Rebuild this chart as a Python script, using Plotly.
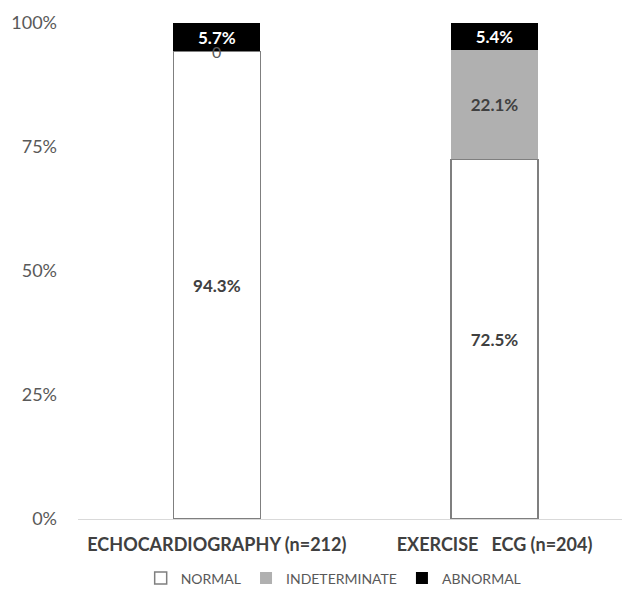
import plotly.graph_objects as go

# Stacked percentage results per test
categories = ["ECHOCARDIOGRAPHY (n=212)", "EXERCISE\u00a0\u00a0\u00a0ECG (n=204)"]
normal = [94.3, 72.5]
indeterminate = [0.0, 22.1]
abnormal = [5.7, 5.4]
y_ticks = [0, 25, 50, 75, 100]
y_tick_labels = ["0%", "25%", "50%", "75%", "100%"]

FONT = "Lato"
x = list(range(len(categories)))


def pct_labels(values):
    return [f"{v:.1f}%" if v > 0 else "" for v in values]


fig = go.Figure()
fig.add_trace(go.Bar(
    x=x, y=normal, name="NORMAL",
    marker=dict(color="#ffffff", line=dict(color="#7f7f7f", width=1.5)),
    text=pct_labels(normal), textposition="inside", insidetextanchor="middle",
    textfont=dict(family=FONT, size=17, color="#404040", weight="bold"),
))
fig.add_trace(go.Bar(
    x=x, y=indeterminate, name="INDETERMINATE",
    marker=dict(color="#b0b0b0", line=dict(color="#b0b0b0", width=0)),
    text=pct_labels(indeterminate), textposition="inside", insidetextanchor="middle",
    textfont=dict(family=FONT, size=17, color="#404040", weight="bold"),
))
fig.add_trace(go.Bar(
    x=x, y=abnormal, name="ABNORMAL",
    marker=dict(color="#000000", line=dict(color="#000000", width=0)),
    text=pct_labels(abnormal), textposition="inside", insidetextanchor="middle",
    textfont=dict(family=FONT, size=17, color="#ffffff", weight="bold"),
))

# zero-height segments still get their value written at the boundary
annotations = []
for i, v in enumerate(indeterminate):
    if v == 0:
        annotations.append(dict(
            x=x[i], y=normal[i] + v, text=f"{v:g}", showarrow=False,
            xref="x", yref="y", yanchor="middle",
            font=dict(family=FONT, size=16, color="#595959"),
        ))

fig.update_layout(
    barmode="stack",
    bargap=0.687,
    width=622, height=595,
    margin=dict(l=77.5, r=0, t=23, b=73),
    paper_bgcolor="#ffffff", plot_bgcolor="#ffffff",
    font=dict(family=FONT, color="#595959"),
    annotations=annotations,
    showlegend=True,
    legend=dict(
        orientation="h", x=0.47, xanchor="center", y=-0.12, yanchor="middle",
        font=dict(family=FONT, size=14, color="#595959"),
        traceorder="normal", itemwidth=30,
    ),
    xaxis=dict(
        tickmode="array", tickvals=x, ticktext=categories,
        range=[-0.5, 1.459], showline=True, linecolor="#d9d9d9", linewidth=1,
        showgrid=False, zeroline=False, ticks="", ticklabelstandoff=9,
        tickfont=dict(family=FONT, size=18, color="#404040", weight="bold"),
    ),
    yaxis=dict(
        range=[0, 100], tickmode="array", tickvals=y_ticks, ticktext=y_tick_labels,
        showgrid=False, zeroline=False, showline=False, ticks="",
        ticklabelstandoff=20,
        tickfont=dict(family=FONT, size=18, color="#595959"),
    ),
)

fig.write_html("out.html")
